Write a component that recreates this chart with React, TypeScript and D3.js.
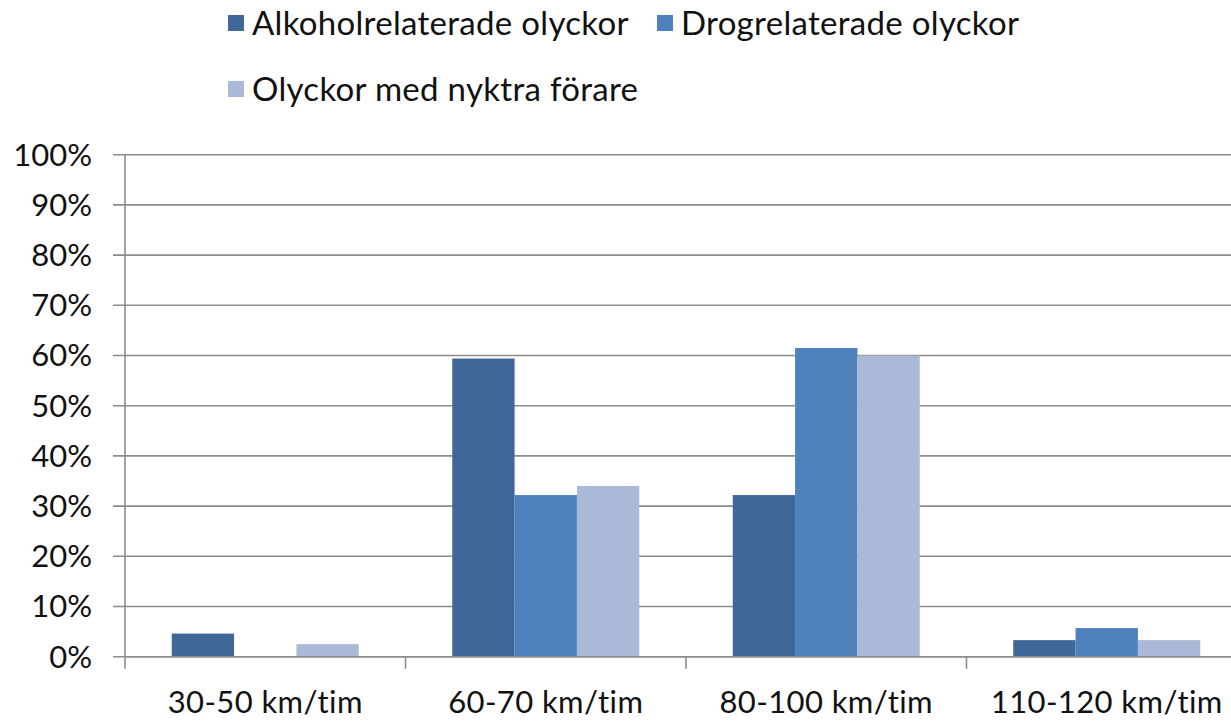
import React, { useEffect, useRef } from "react";
import * as d3 from "d3";

const categories = ["30-50 km/tim", "60-70 km/tim", "80-100 km/tim", "110-120 km/tim"];
const seriesNames = ["Alkoholrelaterade olyckor", "Drogrelaterade olyckor", "Olyckor med nyktra förare"];
const alkohol = [0.046, 0.594, 0.322, 0.033];
const drog = [0, 0.322, 0.615, 0.057];
const nyktra = [0.025, 0.34, 0.6, 0.033];
const colors = ["#3F6899", "#4F81BD", "#AAB9D7"];
const yTicks = [0, 0.1, 0.2, 0.3, 0.4, 0.5, 0.6, 0.7, 0.8, 0.9, 1];

const FONT = "Lato, 'Open Sans', sans-serif";

const App: React.FC = () => {
  const svgRef = useRef<SVGSVGElement | null>(null);

  useEffect(() => {
    if (!svgRef.current) return;
    const svg = d3.select(svgRef.current);
    svg.selectAll("*").remove();

    const width = 1231;
    const height = 721;
    const margin = { top: 154.7, left: 125, bottom: 656.7 };
    const bandW = 280.5;

    const values = [alkohol, drog, nyktra];

    const x0 = d3
      .scaleBand()
      .domain(categories)
      .range([margin.left, margin.left + bandW * categories.length])
      .padding(0);

    const x1 = d3
      .scaleBand()
      .domain(seriesNames)
      .range([0, x0.bandwidth()])
      .paddingInner(0)
      .paddingOuter(0.75);

    const y = d3.scaleLinear().domain([0, 1]).range([margin.bottom, margin.top]);

    svg.attr("width", width).attr("height", height);

    // gridlines + left ticks
    svg
      .append("g")
      .selectAll("line")
      .data(yTicks)
      .join("line")
      .attr("x1", margin.left - 12)
      .attr("x2", width)
      .attr("y1", (d) => y(d))
      .attr("y2", (d) => y(d))
      .attr("stroke", "#8C8C8C")
      .attr("stroke-width", 1.6);

    // y labels
    svg
      .append("g")
      .selectAll("text")
      .data(yTicks)
      .join("text")
      .attr("x", 92)
      .attr("y", (d) => y(d))
      .attr("dy", "0.35em")
      .attr("text-anchor", "end")
      .attr("font-family", FONT)
      .attr("font-size", 31)
      .attr("fill", "#111")
      .text((d) => d3.format(".0%")(d));

    // bars
    const groups = svg
      .append("g")
      .selectAll("g")
      .data(categories)
      .join("g")
      .attr("transform", (d) => `translate(${x0(d)},0)`);

    groups
      .selectAll("rect")
      .data((_, i) => seriesNames.map((s, k) => ({ s, k, v: values[k][i] })))
      .join("rect")
      .attr("x", (d) => x1(d.s)!)
      .attr("width", x1.bandwidth())
      .attr("y", (d) => y(d.v))
      .attr("height", (d) => y(0) - y(d.v))
      .attr("fill", (d) => colors[d.k]);

    // axis lines
    svg
      .append("line")
      .attr("x1", margin.left)
      .attr("x2", margin.left)
      .attr("y1", margin.top)
      .attr("y2", margin.bottom + 12)
      .attr("stroke", "#8C8C8C")
      .attr("stroke-width", 1.6);

    svg
      .append("line")
      .attr("x1", margin.left)
      .attr("x2", width)
      .attr("y1", y(0))
      .attr("y2", y(0))
      .attr("stroke", "#8C8C8C")
      .attr("stroke-width", 1.6);

    svg
      .append("g")
      .selectAll("line")
      .data(categories.slice(1))
      .join("line")
      .attr("x1", (d) => x0(d)!)
      .attr("x2", (d) => x0(d)!)
      .attr("y1", y(0))
      .attr("y2", y(0) + 12)
      .attr("stroke", "#8C8C8C")
      .attr("stroke-width", 1.6);

    // category labels
    svg
      .append("g")
      .selectAll("text")
      .data(categories)
      .join("text")
      .attr("x", (d) => x0(d)! + x0.bandwidth() / 2)
      .attr("y", 713)
      .attr("text-anchor", "middle")
      .attr("font-family", FONT)
      .attr("font-size", 31)
      .attr("letter-spacing", 0.4)
      .attr("fill", "#111")
      .text((d) => d);

    // legend
    const legendPos = [
      { x: 228, y: 23 },
      { x: 657, y: 23 },
      { x: 228, y: 89 },
    ];
    const legend = svg
      .append("g")
      .selectAll("g")
      .data(seriesNames)
      .join("g")
      .attr("transform", (_, i) => `translate(${legendPos[i].x},${legendPos[i].y})`);

    legend
      .append("rect")
      .attr("x", 0)
      .attr("y", -8)
      .attr("width", 16)
      .attr("height", 16)
      .attr("fill", (_, i) => colors[i]);

    legend
      .append("text")
      .attr("x", 24)
      .attr("y", 0)
      .attr("dy", "0.35em")
      .attr("font-family", FONT)
      .attr("font-size", 33)
      .attr("letter-spacing", 0.3)
      .attr("fill", "#111")
      .text((d) => d);
  }, []);

  return (
    <svg
      ref={svgRef}
      style={{ position: "absolute", left: 0, top: 0, background: "#fff" }}
    ></svg>
  );
};

export default App;
